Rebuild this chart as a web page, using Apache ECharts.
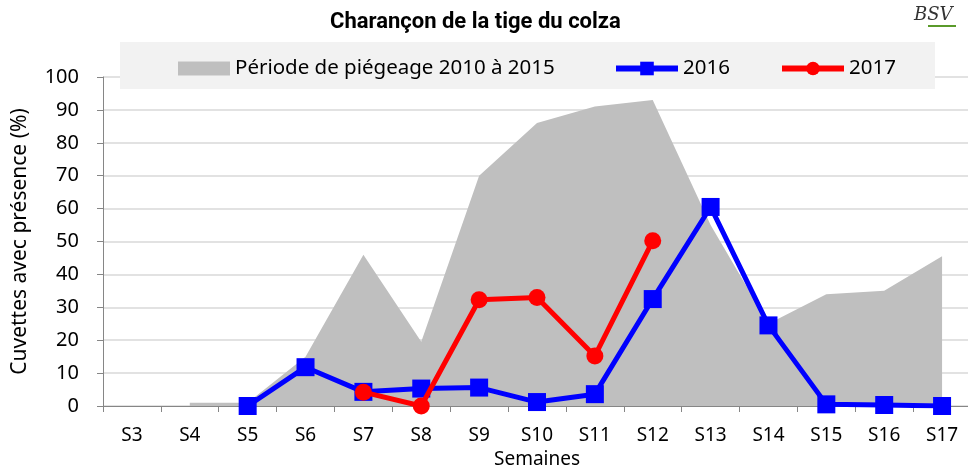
<!DOCTYPE html>
<html>
<head>
<meta charset="utf-8">
<script src="https://cdn.jsdelivr.net/npm/echarts@6/dist/echarts.min.js"></script>
<style>
body{
	margin:0;
	background-color:#ffffff;
}
#chart{
	width:968px;
	height:468px;
}
</style>
</head>
<body>
<div id="chart"></div>
<script type="text/javascript">
// semaines
var weeks = ['S3','S4','S5','S6','S7','S8','S9','S10','S11','S12','S13','S14','S15','S16','S17'];
// enveloppe de la periode de piegeage 2010-2015
var period = [null, 1, 1, 15, 46, 19.5, 70, 86, 91, 93, 55, 25, 34, 35, 45.5];
var y2016 = [null, null, 0, 11.8, 4.3, 5.3, 5.6, 1.2, 3.6, 32.5, 60.5, 24.5, 0.5, 0.3, 0];
var y2017 = [null, null, null, null, 4.2, 0, 32.3, 33, 15.2, 50.2, null, null, null, null, null];

var font = 'Noto Sans';

function setchart(id) {
	var chart = echarts.init(document.getElementById(id));
	chart.setOption({
		animation: false,
		textStyle: {fontFamily: font},
		title: {
			text: 'Charançon de la tige du colza',
			left: 325,
			top: 6,
			textStyle: {
				color: '#000',
				fontWeight: 'bold',
				fontSize: 22,
				fontFamily: 'Roboto'
			}
		},
		graphic: [
			{
				type: 'rect',
				shape: {x: 120, y: 42, width: 815, height: 47},
				style: {fill: '#f2f2f2'},
				z: 3
			},
			{
				type: 'text',
				left: 914,
				top: 6,
				style: {text: 'BSV', font: 'italic 18px DejaVu Serif', fill: '#333'},
				z: 3
			},
			{
				type: 'rect',
				shape: {x: 928, y: 25, width: 28, height: 2},
				style: {fill: '#5a9a2a'},
				z: 3
			}
		],
		legend: [
			{
				data: [{name: 'Période de piégeage 2010 à 2015', icon: 'rect'}],
				left: 173,
				top: 53,
				itemWidth: 52,
				itemHeight: 14,
				textStyle: {fontSize: 20.5, color: '#000', fontFamily: font},
				z: 5
			},
			{
				data: ['2016'],
				left: 608,
				top: 53,
				itemWidth: 62,
				itemHeight: 17,
				lineStyle: {width: 6},
				textStyle: {fontSize: 20.5, color: '#000', fontFamily: font},
				z: 5
			},
			{
				data: ['2017'],
				left: 774,
				top: 53,
				itemWidth: 62,
				itemHeight: 17,
				lineStyle: {width: 6},
				textStyle: {fontSize: 20.5, color: '#000', fontFamily: font},
				z: 5
			}
		],
		grid: {
			left: 103,
			top: 77,
			width: 868,
			height: 329,
			outerBoundsMode: 'none'
		},
		xAxis: {
			type: 'category',
			data: weeks,
			boundaryGap: true,
			name: 'Semaines',
			nameLocation: 'middle',
			nameGap: 44,
			nameTextStyle: {fontSize: 19, color: '#000'},
			axisLine: {lineStyle: {color: '#868686', width: 1}},
			axisTick: {show: true, length: 6, lineStyle: {color: '#868686'}},
			axisLabel: {fontSize: 19, color: '#000', margin: 20, interval: 0}
		},
		yAxis: {
			type: 'value',
			min: 0,
			max: 100,
			interval: 10,
			name: 'Cuvettes avec présence (%)',
			nameLocation: 'middle',
			nameGap: 72,
			nameTextStyle: {fontSize: 21, color: '#000'},
			axisLine: {show: true, lineStyle: {color: '#868686', width: 1}},
			axisTick: {show: true, length: 6, lineStyle: {color: '#868686'}},
			axisLabel: {fontSize: 20, color: '#000', margin: 24},
			splitLine: {lineStyle: {color: '#d9d9d9', width: 1.5}}
		},
		series: [
			{
				name: 'Période de piégeage 2010 à 2015',
				type: 'line',
				data: period,
				symbol: 'none',
				itemStyle: {color: '#bfbfbf'},
				lineStyle: {width: 0, opacity: 0},
				areaStyle: {color: '#bfbfbf', opacity: 1},
				z: 2
			},
			{
				name: '2016',
				type: 'line',
				data: y2016,
				symbol: 'rect',
				symbolSize: 18,
				itemStyle: {color: '#0000ff'},
				lineStyle: {color: '#0000ff', width: 5},
				z: 3
			},
			{
				name: '2017',
				type: 'line',
				data: y2017,
				symbol: 'circle',
				symbolSize: 17,
				itemStyle: {color: '#ff0000'},
				lineStyle: {color: '#ff0000', width: 5},
				z: 4
			}
		]
	});
	return chart;
}

var chartObj = setchart('chart');
</script>
</body>
</html>
